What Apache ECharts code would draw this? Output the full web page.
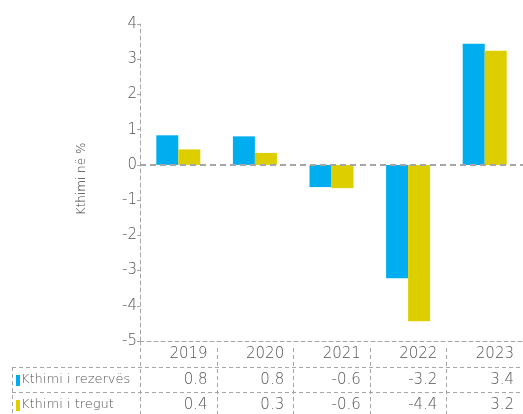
<!DOCTYPE html>
<html><head><meta charset="utf-8">
<script src="https://cdn.jsdelivr.net/npm/echarts@6/dist/echarts.min.js"></script>
<style>html,body{margin:0;padding:0;background:#fff}#c{width:523px;height:414px}</style>
</head><body><div id="c"></div>
<script>
// ---- data ----
const categories = ['2019', '2020', '2021', '2022', '2023'];
const seriesNames = ['Kthimi i rezervës', 'Kthimi i tregut'];
const reserveReturn = [0.84, 0.81, -0.63, -3.22, 3.44];
const marketReturn = [0.44, 0.34, -0.66, -4.44, 3.24];
const reserveLabels = ['0.8', '0.8', '-0.6', '-3.2', '3.4'];
const marketLabels = ['0.4', '0.3', '-0.6', '-4.4', '3.2'];
const yAxisName = 'Kthimi në %';

const colors = ['#00AEEF', '#DDCE00'];
const FONT = 'DejaVu Sans';
const TXT = '#555555';
const LINE = '#a6a6a6';
const DASH = [4, 3];

const chart = echarts.init(document.getElementById('c'), null, {renderer: 'canvas'});
const gridLeft = 140, gridTop = 24, gridBottom = 73;

chart.setOption({
  animation: false,
  textStyle: {fontFamily: FONT},
  grid: {left: gridLeft, right: 0, top: gridTop, bottom: gridBottom, containLabel: false},
  xAxis: {
    type: 'category', data: categories,
    axisLine: {onZero: false, lineStyle: {color: LINE, type: DASH, width: 1}},
    axisTick: {show: false}, axisLabel: {show: false}, splitLine: {show: false}
  },
  yAxis: {
    type: 'value', min: -5, max: 4, interval: 1,
    name: yAxisName, nameLocation: 'middle', nameGap: 52, nameRotate: 90,
    nameTextStyle: {color: '#404040', fontSize: 12, fontFamily: FONT, fontWeight: 200, padding: [0, 0, 0, 7]},
    axisLine: {show: true, lineStyle: {color: LINE, type: DASH, width: 1}},
    axisTick: {show: true, length: 3, lineStyle: {color: LINE}},
    axisLabel: {color: TXT, fontSize: 15, margin: 3, fontFamily: FONT, fontWeight: 200},
    splitLine: {show: false}
  },
  series: [
    {
      name: seriesNames[0], type: 'bar', data: reserveReturn, barWidth: 22, barGap: '0%',
      itemStyle: {color: colors[0]},
      markLine: {
        silent: true, symbol: 'none', label: {show: false},
        lineStyle: {color: LINE, type: [6, 4], width: 2},
        data: [{yAxis: 0}]
      }
    },
    {name: seriesNames[1], type: 'bar', data: marketReturn, barWidth: 22, barGap: '0%', itemStyle: {color: colors[1]}}
  ]
});

// ---- data table under the axis ----
function buildTable() {
  const c0 = chart.convertToPixel({xAxisIndex: 0}, categories[0]);
  const c1 = chart.convertToPixel({xAxisIndex: 0}, categories[1]);
  const band = c1 - c0;
  const axisY = chart.convertToPixel({yAxisIndex: 0}, -5);
  const H = 414, W = 523;
  const rowLine1 = axisY + 26, rowLine2 = axisY + 51;
  const rowY = [axisY + 13, axisY + 39, axisY + 64];
  const left = 12;
  const g = [];
  const dashed = {stroke: LINE, lineWidth: 1, lineDash: DASH};
  const line = (x1, y1, x2, y2) => g.push({type: 'line', silent: true, shape: {x1, y1, x2, y2}, style: dashed});
  line(left, rowLine1 + 0.5, W, rowLine1 + 0.5);
  line(left, rowLine2 + 0.5, W, rowLine2 + 0.5);
  line(left + 0.5, rowLine1, left + 0.5, H);
  line(gridLeft + 0.5, axisY, gridLeft + 0.5, H);
  for (let i = 1; i < categories.length; i++) {
    const x = Math.round(c0 - band / 2 + band * i) + 0.5;
    line(x, axisY + 7, x, H);
  }
  const cell = (text, x, y) => ({
    type: 'text', silent: true, x, y,
    style: {text, fill: TXT, font: '200 15px "' + FONT + '"', align: 'right', verticalAlign: 'middle'}
  });
  [categories, reserveLabels, marketLabels].forEach((r, ri) => {
    r.forEach((t, i) => {
      const right = c0 + band / 2 + band * i - 9;
      g.push(cell(t, right, rowY[ri]));
    });
  });
  // row headers with legend markers
  seriesNames.forEach((n, i) => {
    g.push({type: 'rect', silent: true, shape: {x: 16, y: rowY[i + 1] - 5, width: 4, height: 11}, style: {fill: colors[i]}});
    g.push({type: 'text', silent: true, x: 21, y: rowY[i + 1],
      style: {text: n, fill: TXT, font: '200 13px "' + FONT + '"', align: 'left', verticalAlign: 'middle'}});
  });
  chart.setOption({graphic: g});
}
buildTable();
</script>
</body></html>
